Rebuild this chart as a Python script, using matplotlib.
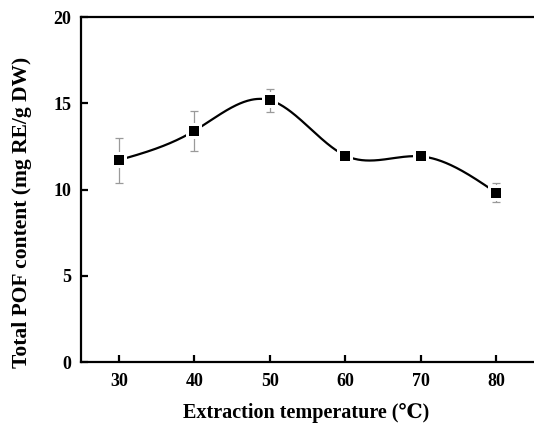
import matplotlib
matplotlib.use("Agg")
import matplotlib.pyplot as plt
import numpy as np

# extraction temperature (℃) vs total POF content
temperature = [30, 40, 50, 60, 70, 80]
pof_content = [11.7, 13.4, 15.18, 11.97, 11.92, 9.81]
pof_err = [1.3, 1.15, 0.67, 0.15, 0.25, 0.56]

x_ticks = [30, 40, 50, 60, 70, 80]
y_ticks = [0, 5, 10, 15, 20]


def natural_spline(x, y, n=400):
    # natural cubic spline through the points
    x = np.asarray(x, float)
    y = np.asarray(y, float)
    k = len(x)
    h = np.diff(x)
    A = np.zeros((k, k))
    b = np.zeros(k)
    A[0, 0] = 1
    A[-1, -1] = 1
    for i in range(1, k - 1):
        A[i, i - 1] = h[i - 1]
        A[i, i] = 2 * (h[i - 1] + h[i])
        A[i, i + 1] = h[i]
        b[i] = 3 * ((y[i + 1] - y[i]) / h[i] - (y[i] - y[i - 1]) / h[i - 1])
    c = np.linalg.solve(A, b)
    xs = np.linspace(x[0], x[-1], n)
    ys = np.empty_like(xs)
    for j, xv in enumerate(xs):
        i = min(np.searchsorted(x, xv, side="right") - 1, k - 2)
        dx = xv - x[i]
        bi = (y[i + 1] - y[i]) / h[i] - h[i] * (2 * c[i] + c[i + 1]) / 3
        di = (c[i + 1] - c[i]) / (3 * h[i])
        ys[j] = y[i] + bi * dx + c[i] * dx ** 2 + di * dx ** 3
    return xs, ys


plt.rcParams['font.family'] = ['Liberation Serif', 'DejaVu Serif', 'DejaVu Sans']
plt.rcParams['font.weight'] = 'bold'

fig = plt.figure(figsize=(5.34, 4.23), dpi=100)
ax = fig.add_axes([0.1517, 0.1442, 0.8483, 0.8156])

ax.errorbar(temperature, pof_content, yerr=pof_err, fmt='none',
            ecolor='#9a9a9a', elinewidth=0.9, capsize=2.6, capthick=0.9, zorder=1)

xs, ys = natural_spline(temperature, pof_content)
ax.plot(xs, ys, color='black', lw=1.6, zorder=2)

# white halo around the squares, then the squares
ax.plot(temperature, pof_content, 's', color='white', ms=11, mew=0, zorder=3)
ax.plot(temperature, pof_content, 's', color='black', ms=6.8, mew=0, zorder=4)

ax.set_xlim(25, 85)
ax.set_ylim(0, 20)
ax.set_xticks(x_ticks)
ax.set_yticks(y_ticks)
ax.tick_params(direction='in', length=5, width=1.6, labelsize=13)
ax.tick_params(axis='x', pad=8)
ax.tick_params(axis='y', pad=7)
for lab in ax.get_xticklabels() + ax.get_yticklabels():
    lab.set_fontweight('bold')

ax.spines['right'].set_visible(False)
for s in ['left', 'top', 'bottom']:
    ax.spines[s].set_linewidth(1.6)

ax.set_xlabel('Extraction temperature (℃)', fontsize=14.5, fontweight='bold', va='center')
ax.set_ylabel('Total POF content (mg RE/g DW)', fontsize=15.5, fontweight='bold', va='center')
ax.xaxis.set_label_coords(306 / 534, 1 - 413 / 423, transform=fig.transFigure)
ax.yaxis.set_label_coords(22 / 534, 1 - 212 / 423, transform=fig.transFigure)

fig.savefig('out.png', dpi=100)
